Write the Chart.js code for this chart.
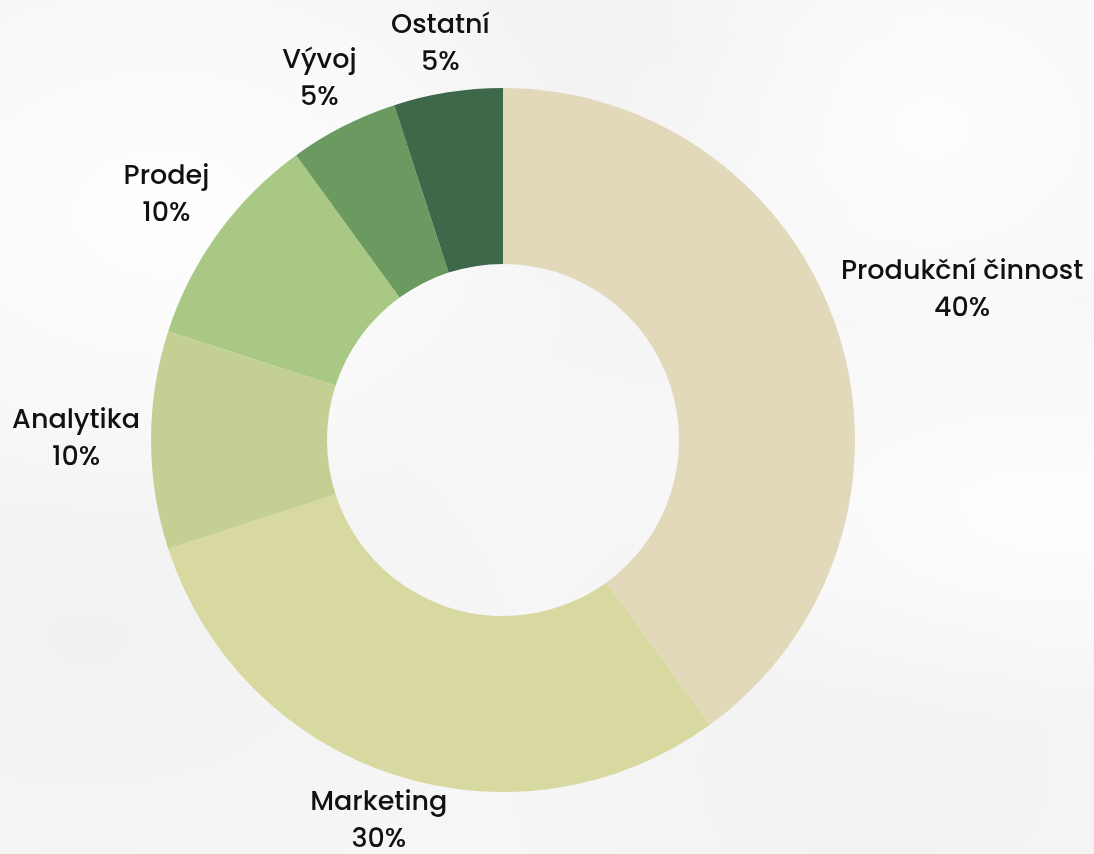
<!DOCTYPE html>
<html lang="cs">
<head>
<meta charset="utf-8">
<title>Rozdělení činností</title>
<script src="https://cdn.jsdelivr.net/npm/chart.js@4.4.1/dist/chart.umd.min.js"></script>
<style>
  html, body { margin: 0; padding: 0; }
  body {
    width: 1094px; height: 854px; overflow: hidden;
    background-color: #f6f6f6;
    background-image:
      radial-gradient(ellipse at 15% 25%, rgba(255,255,255,0.9), rgba(255,255,255,0) 35%),
      radial-gradient(ellipse at 85% 15%, rgba(255,255,255,0.8), rgba(255,255,255,0) 30%),
      radial-gradient(ellipse at 95% 60%, rgba(255,255,255,0.9), rgba(255,255,255,0) 30%),
      radial-gradient(ellipse at 60% 5%, rgba(238,238,238,0.7), rgba(238,238,238,0) 30%),
      radial-gradient(ellipse at 8% 75%, rgba(238,238,238,0.6), rgba(238,238,238,0) 30%),
      radial-gradient(ellipse at 80% 90%, rgba(240,240,240,0.7), rgba(240,240,240,0) 30%);
  }
  #wrap { position: relative; width: 1094px; height: 854px; }
</style>
</head>
<body>
<div id="wrap"><canvas id="graficoCinnosti"></canvas></div>
<script>
// data
const kategorie = ['Produkční činnost', 'Marketing', 'Analytika', 'Prodej', 'Vývoj', 'Ostatní'];
const podily = [40, 30, 10, 10, 5, 5];
const barvy = ['#e1d9ba', '#d8d9a0', '#c4d093', '#a9c884', '#6a9a60', '#3d6849'];

// popisky mimo výseče: střed popisku leží na ose výseče, okraj rámečku kousek za obvodem
const popiskyPlugin = {
    id: 'popisky',
    afterDatasetsDraw(chart) {
        const ctx = chart.ctx;
        const meta = chart.getDatasetMeta(0);
        const lineH = 37;
        const gap = 11;
        ctx.save();
        ctx.font = '500 27px Poppins, "Noto Sans", sans-serif';
        ctx.fillStyle = '#111';
        ctx.textAlign = 'center';
        ctx.textBaseline = 'middle';
        meta.data.forEach((arc, i) => {
            const lines = [kategorie[i], podily[i] + '%'];
            const w = Math.max(...lines.map(t => ctx.measureText(t).width));
            const h = lines.length * lineH;
            const a = (arc.startAngle + arc.endAngle) / 2;
            const vx = Math.cos(a), vy = Math.sin(a);
            const tx = Math.abs(vx) > 1e-6 ? (w / 2) / Math.abs(vx) : Infinity;
            const ty = Math.abs(vy) > 1e-6 ? (h / 2) / Math.abs(vy) : Infinity;
            const d = arc.outerRadius + gap + Math.min(tx, ty);
            const cx = arc.x + vx * d;
            const cy = arc.y + vy * d;
            lines.forEach((t, k) => {
                ctx.fillText(t, cx, cy - h / 2 + lineH / 2 + k * lineH);
            });
        });
        ctx.restore();
    }
};

new Chart(document.getElementById('graficoCinnosti'), {
    type: 'doughnut',
    data: {
        labels: kategorie,
        datasets: [{
            data: podily,
            backgroundColor: barvy,
            borderWidth: 0,
            hoverOffset: 0
        }]
    },
    options: {
        responsive: true,
        maintainAspectRatio: false,
        animation: false,
        cutout: '50%',
        layout: { padding: { top: 88, bottom: 62, left: 151, right: 239 } },
        plugins: {
            legend: { display: false },
            tooltip: { enabled: false }
        }
    },
    plugins: [popiskyPlugin]
});
</script>
</body>
</html>
